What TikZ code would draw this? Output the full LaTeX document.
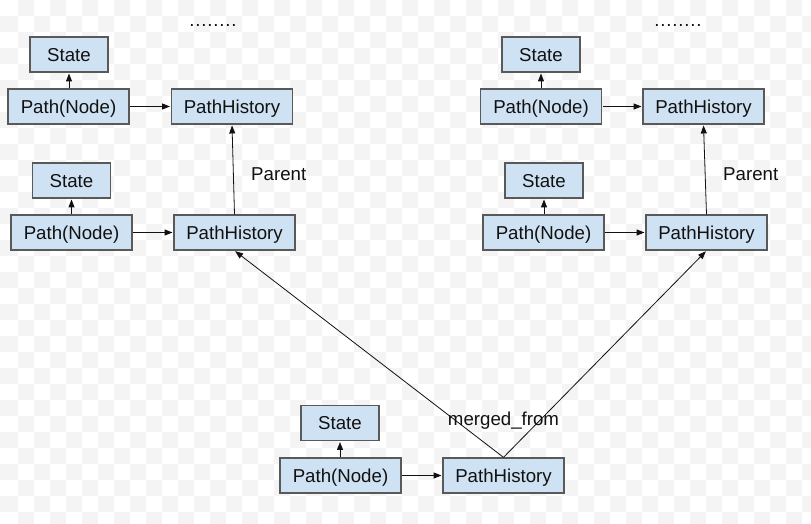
\documentclass[tikz,border=0pt]{standalone}
\usepackage{fontspec}
\setmainfont{Liberation Sans}
\newfontfamily\dotfont[LetterSpace=4.3]{Liberation Sans}
\usetikzlibrary{arrows.meta}
\definecolor{boxfill}{HTML}{CFE2F3}
\definecolor{boxline}{HTML}{595959}
\definecolor{bgc}{HTML}{F4F4F4}
\definecolor{ink}{HTML}{111111}
\tikzset{
  box/.style={draw=boxline, line width=1.3pt, fill=boxfill, inner sep=0pt,
    minimum height=35pt, text height=13.4pt, text depth=0pt, text=ink,
    font=\fontsize{18.67}{22}\selectfont},
  pbox/.style={box, minimum width=121pt},
  sbox/.style={box, minimum width=78pt},
  lbl/.style={inner sep=0pt, text height=13.4pt, text depth=0pt, text=ink,
    font=\fontsize{18.67}{22}\selectfont},
  conn/.style={draw=ink, line width=1pt, -{Triangle[length=8pt,width=6pt]}, shorten >=0.8pt, shorten <=0.8pt},
  thin/.style={draw=ink, line width=0.8pt, -{Triangle[length=8pt,width=6pt]}, shorten >=0.8pt}
}
\begin{document}
\begin{tikzpicture}[x=1pt,y=-1pt]
\useasboundingbox (0,0) rectangle (811,523);
\fill[white] (0,0) rectangle (811,523);
\begin{scope}
\clip (0,0) rectangle (811,523);
\foreach \r in {0,...,32}{
  \pgfmathtruncatemacro\rp{mod(\r,2)}
  \ifnum\rp=1 \fill[bgc] (0,{16*\r}) rectangle (18,{16*\r+16}); \fi
  \foreach \k in {0,...,24}{
    \fill[bgc] ({18+16*\rp+32*\k},{16*\r}) rectangle ++(16,16);
  }
}
\end{scope}

% left cluster
\node[sbox] (sL1) at (69,54.5) {State};
\node[pbox] (pL1) at (68.5,106.5) {Path(Node)};
\node[pbox] (hL1) at (232,106.5) {PathHistory};
\node[sbox] (sL2) at (71.5,180.5) {State};
\node[pbox] (pL2) at (71.5,232.5) {Path(Node)};
\node[pbox] (hL2) at (234.5,232.5) {PathHistory};
% right cluster
\node[sbox] (sR1) at (541,54.5) {State};
\node[pbox] (pR1) at (541,106.5) {Path(Node)};
\node[pbox] (hR1) at (703.5,106.5) {PathHistory};
\node[sbox] (sR2) at (544,180.5) {State};
\node[pbox] (pR2) at (543.5,232.5) {Path(Node)};
\node[pbox] (hR2) at (706.5,232.5) {PathHistory};
% bottom
\node[sbox] (sB) at (340,423) {State};
\node[pbox] (pB) at (340.5,475.5) {Path(Node)};
\node[pbox] (hB) at (503.5,475.5) {PathHistory};

% labels
\node[lbl, anchor=base] (dL) at (213,26) {\dotfont ........};
\node[lbl, anchor=base] (dR) at (678,26) {\dotfont ........};
\node[lbl, anchor=base west] (parL) at (251,180) {Parent};
\node[lbl, anchor=base west] (parR) at (723,180) {Parent};
\node[lbl, anchor=base] (mf) at (503.5,425) {merged\_from};

% connectors
\foreach \p/\s in {pL1/sL1, pL2/sL2, pR1/sR1, pR2/sR2, pB/sB}{
  \draw[conn] (\p.north -| \s.south) -- (\s.south);
}
\foreach \p/\h in {pL1/hL1, pL2/hL2, pR1/hR1, pR2/hR2, pB/hB}{
  \draw[conn] (\p.east) -- (\h.west);
}
\draw[thin] (hL2.north) -- (hL1.south);
\draw[thin] (hR2.north) -- (hR1.south);
\draw[thin] (hB.north) -- (hL2.south);
\draw[thin] (hB.north) -- (hR2.south);
\end{tikzpicture}
\end{document}
